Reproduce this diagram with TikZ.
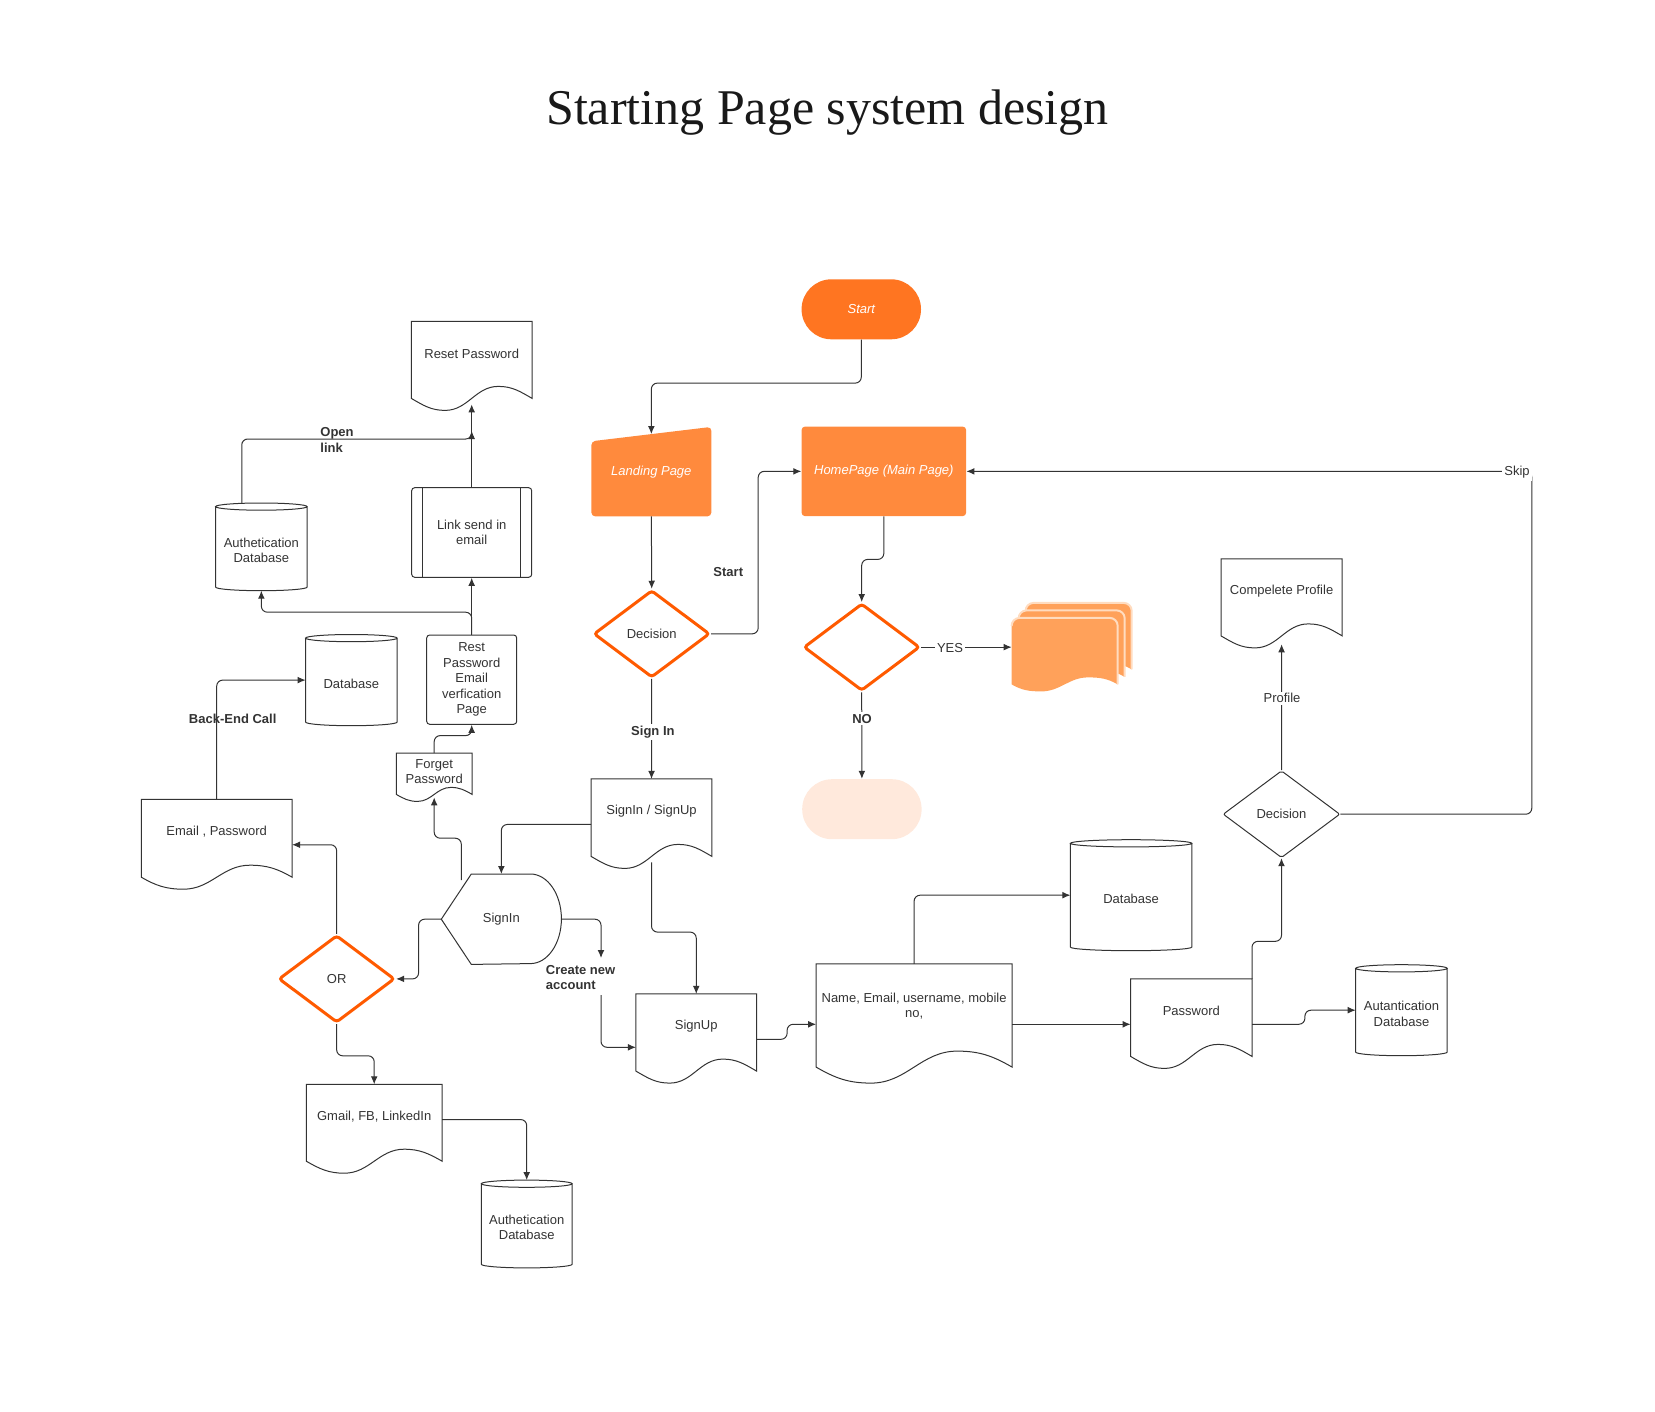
\documentclass[tikz,border=0pt]{standalone}
\usepackage{fontspec}
\setmainfont{Liberation Sans}
\newfontfamily\titlefont{Liberation Serif}
\usepackage{tikz}
\usetikzlibrary{shapes.geometric,arrows.meta,calc,backgrounds}
\definecolor{ink}{HTML}{333333}
\definecolor{startorange}{HTML}{FF7521}
\definecolor{pageorange}{HTML}{FF8A3D}
\definecolor{stackorange}{HTML}{FFA15A}
\definecolor{stackline}{HTML}{FFDCC0}
\definecolor{decorange}{HTML}{FF5A00}
\definecolor{endpeach}{HTML}{FFE9DC}

\newcommand{\docwave}[3][]{%
 \draw[shapeline,#1] (#2.south west) -- (#2.north west) -- (#2.north east) -- (#2.south east)
  to[out=150,in=0] ($(#2.south west)!0.72!(#2.south east)+(0,-#3)$)
  to[out=180,in=0] ($(#2.south west)!0.28!(#2.south east)+(0,#3)$)
  to[out=180,in=-30] (#2.south west) -- cycle;}
\newcommand{\stackwave}[2]{%
 \fill[stackorange] (#1.south west) -- ([yshift=-4pt]#1.north west) arc[start angle=180,end angle=90,radius=4pt]
  -- ([xshift=-4pt]#1.north east) arc[start angle=90,end angle=0,radius=4pt] -- (#1.south east)
  to[out=150,in=0] ($(#1.south west)!0.72!(#1.south east)+(0,-#2)$)
  to[out=180,in=0] ($(#1.south west)!0.28!(#1.south east)+(0,#2)$)
  to[out=180,in=-30] (#1.south west) -- cycle;
 \draw[stackline, line width=1pt] ([yshift=-4pt]#1.north west) arc[start angle=180,end angle=90,radius=4pt]
  -- ([xshift=-4pt]#1.north east) arc[start angle=90,end angle=0,radius=4pt] -- (#1.south east);}
\newcommand{\dbdraw}[1]{%
 \draw[shapeline] let \p1=($(#1.east)-(#1.west)$) in
  (#1.north west) -- (#1.south west) arc[start angle=180,end angle=360,x radius=0.5*\x1,y radius=1.8pt] -- (#1.north east)
  (#1.north) ellipse[x radius=0.5*\x1,y radius=1.8pt];}

\begin{document}
\begin{tikzpicture}[x=0.5pt,y=-0.5pt,
 >={Latex[length=4pt,width=3.4pt]},
 every node/.style={font=\fontsize{6.5}{7.8}\selectfont, text=ink},
 shapeline/.style={draw=ink, line width=0.5pt},
 conn/.style={draw=ink, line width=0.5pt, rounded corners=3pt},
 docbox/.style={rectangle, inner sep=0pt},
 doctxt/.style={align=center, yshift=3.2pt},
 dbbox/.style={rectangle, inner sep=0pt},
 dbtxt/.style={align=center, yshift=-1.75pt},
 orangedec/.style={diamond, aspect=1.33, draw=decorange, line width=1.5pt, rounded corners=1.5pt, minimum width=58pt, minimum height=43.6pt, inner sep=0pt},
 plaindec/.style={diamond, aspect=1.33, draw=ink, line width=0.5pt, rounded corners=1pt, minimum width=58.4pt, minimum height=43.5pt, inner sep=0pt},
 orangebox/.style={rectangle, fill=pageorange, rounded corners=1.5pt, text=white, font=\fontsize{6.5}{7.8}\selectfont\itshape},
 terminal/.style={rectangle, rounded corners=14.9pt, minimum width=59.7pt, minimum height=30pt, inner sep=0pt},
 procbox/.style={rectangle, draw=ink, line width=0.5pt, rounded corners=1.5pt, align=center, inner sep=0pt},
 lbl/.style={font=\fontsize{6.5}{7.8}\selectfont\bfseries, inner sep=1pt},
 tag/.style={fill=white, inner sep=1pt}]
 \useasboundingbox (0,0) rectangle (1655,1412);

 \node[font=\titlefont\fontsize{25}{30}\selectfont, text=black!90] (title) at (827.5,113) {Starting Page system design};

 \node[terminal, fill=startorange, text=white, font=\fontsize{6.5}{7.8}\selectfont\itshape] (start) at (861.3,309.3) {Start};
 \node[rectangle, inner sep=0pt, minimum width=59.65pt, minimum height=44.35pt, text=white, font=\fontsize{6.5}{7.8}\selectfont\itshape] (landing) at (651.35,471.65) {Landing Page};
 \begin{scope}[on background layer]
  \fill[pageorange, rounded corners=2pt] ([yshift=-7.2pt]landing.north west) -- (landing.north east) -- (landing.south east) -- (landing.south west) -- cycle;
 \end{scope}
 \coordinate (landtop) at ($(landing.north)+(0,7.2)$);
 \node[orangebox, minimum width=82.15pt, minimum height=44.65pt] (home) at (883.85,471.35) {HomePage (Main Page)};
 \node[orangedec] (decone) at (651.7,633.85) {Decision};
 \node[orangedec] (dectwo) at (861.7,647.15) {};
 \node[terminal, fill=endpeach] (noterm) at (861.9,809.2) {};
 \node[plaindec] (decthree) at (1281.5,814.2) {Decision};
 \node[orangedec] (ordec) at (336.65,978.9) {OR};

 \node[docbox, minimum width=52.65pt, minimum height=32.85pt] (stackc) at (1078.65,636.15) {};
 \node[docbox, minimum width=52.65pt, minimum height=32.85pt] (stackb) at (1071.65,643.65) {};
 \node[docbox, minimum width=52.65pt, minimum height=32.85pt] (stack) at (1064.65,651.15) {};
 \stackwave{stackc}{7}
 \stackwave{stackb}{7}
 \stackwave{stack}{7}

 \node[docbox, minimum width=60pt, minimum height=38.15pt, label={[doctxt]center:Reset Password}] (resetpw) at (471.7,359.85) {};
 \node[docbox, minimum width=75pt, minimum height=38.55pt, label={[doctxt]center:{Email , Password}}] (email) at (216.7,838.25) {};
 \node[docbox, minimum width=37.5pt, minimum height=20.3pt, label={[doctxt, yshift=-2.2pt]center:Forget\\Password}] (forgot) at (434.2,773.7) {};
 \node[docbox, minimum width=67.5pt, minimum height=38.05pt, label={[doctxt]center:{Gmail, FB, LinkedIn}}] (gmail) at (374.2,1122.75) {};
 \node[docbox, minimum width=60pt, minimum height=38.35pt, label={[doctxt]center:SignIn / SignUp}] (signinup) at (651.5,817.65) {};
 \node[docbox, minimum width=59.95pt, minimum height=38.2pt, label={[doctxt]center:SignUp}] (signup) at (696.25,1032.5) {};
 \node[docbox, minimum width=97.6pt, minimum height=51.2pt, label={[doctxt, yshift=1.5pt]center:{Name, Email, username, mobile\\no,}}] (name) at (914.1,1015.5) {};
 \node[docbox, minimum width=60.3pt, minimum height=38.35pt, label={[doctxt]center:Password}] (password) at (1191.3,1017.65) {};
 \node[docbox, minimum width=60.2pt, minimum height=38.1pt, label={[doctxt]center:Compelete Profile}] (complete) at (1281.6,597.4) {};
 \docwave{resetpw}{12}
 \docwave{email}{12}
 \docwave{forgot}{7}
 \docwave{gmail}{12}
 \docwave{signinup}{12}
 \docwave{signup}{12}
 \docwave{name}{16}
 \docwave{password}{12}
 \docwave{complete}{12}

 \node[dbbox, minimum width=45.35pt, minimum height=39.85pt, label={[dbtxt]center:Authetication\\Database}] (authtop) at (261.35,546.85) {};
 \node[dbbox, minimum width=45.35pt, minimum height=41.6pt, label={[dbtxt]center:Database}] (dbleft) at (351.35,680.1) {};
 \node[dbbox, minimum width=45pt, minimum height=39.9pt, label={[dbtxt]center:Authetication\\Database}] (authbot) at (526.7,1224) {};
 \node[dbbox, minimum width=60.3pt, minimum height=51.5pt, label={[dbtxt]center:Database}] (dbright) at (1131.1,895.2) {};
 \node[dbbox, minimum width=45.35pt, minimum height=41.5pt, label={[dbtxt]center:Autantication\\Database}] (autdb) at (1401.45,1010.2) {};
 \dbdraw{authtop}
 \dbdraw{dbleft}
 \dbdraw{authbot}
 \dbdraw{dbright}
 \dbdraw{autdb}

 \node[procbox, minimum width=60pt, minimum height=44.8pt] (linksend) at (471.7,532.5) {Link send in\\email};
 \draw[shapeline] ([xshift=5.8pt]linksend.north west) -- ([xshift=5.8pt]linksend.south west)
  ([xshift=-5.8pt]linksend.north east) -- ([xshift=-5.8pt]linksend.south east);
 \node[procbox, minimum width=45pt, minimum height=44.65pt] (restpage) at (471.7,679.65) {Rest\\Password\\Email\\verfication\\Page};

 \node[rectangle, inner sep=0pt, minimum width=59.65pt, minimum height=44.8pt] (signin) at (501.35,919.2) {SignIn};
 \draw[shapeline] (signin.west) -- ([xshift=15pt]signin.north west) -- ([xshift=-15.5pt]signin.north east)
  arc[start angle=90,end angle=-90,x radius=15.5pt,y radius=22.4pt] -- ([xshift=15pt]signin.south west) -- cycle;

 \coordinate (openend) at (471.7,431);
 \coordinate (crtop) at (601,958);
 \coordinate (crbot) at (601,995);

 \draw[conn,->] (start.south) -- ++(0,43.4) -| (landtop);
 \draw[conn,->] (landing.south) -- (decone.north);
 \draw[conn,->] (decone.east) -- ++(47,0) |- (home.west);
 \draw[conn,->] (home.south) -- ++(0,43) -| (dectwo.north);
 \draw[conn,->] (dectwo.east) -- (dectwo.east -| stack.west);
 \draw[conn,->] (dectwo.south) -- (noterm.north);
 \draw[conn,->] (decone.south) -- (signinup.north);
 \draw[conn,->] ([yshift=-3.4pt]signinup.west) -| (signin.north);
 \draw[conn,->] (signin.west) -- ++(-22.7,0) |- (ordec.east);
 \draw[conn,->] (ordec.north) |- ([yshift=-3.25pt]email.east);
 \draw[conn,->] (ordec.south) -- ++(0,31.8) -| (gmail.north);
 \draw[conn,->] ([yshift=1.6pt]gmail.east) -| ([yshift=1.8pt]authbot.north);
 \draw[conn,->] (email.north) |- (dbleft.west);
 \draw[conn,->] ($(signin.north west)+(20,6)$) -- ++(0,-41.8) -| ([yshift=-1.5pt]forgot.south);
 \draw[conn,->] (forgot.north) -- ++(0,-17.4) -| (restpage.south);
 \draw[conn,->] (restpage.north) -- (linksend.south);
 \draw[conn,->] (restpage.north) -- ++(0,-22.3) -| ([yshift=-1.8pt]authtop.south);
 \draw[conn,->] (linksend.north) -- ([yshift=-3pt]resetpw.south);
 \draw[conn,->] ([xshift=-9.8pt,yshift=1.8pt]authtop.north) -- ++(0,-64) -| (openend);
 \draw[conn,->] (signin.east) -| (crtop);
 \draw[conn,->] (crbot) |- ($(signup.west)+(0,14.8)$);
 \draw[conn,->] ([yshift=-3pt]signinup.south) -- ++(0,69.7) -| (signup.north);
 \draw[conn,->] ([yshift=-3.4pt]signup.east) -- ++(30.5,0) |- ($(name.west)+(0,8.8)$);
 \draw[conn,->] (name.north) |- (dbright.west);
 \draw[conn,->] ($(name.east)+(0,8.8)$) -- ($(name.east -| password.west)+(0,8.8)$);
 \draw[conn,->] ([yshift=-3.3pt]password.east) -- ++(52.9,0) |- (autdb.west);
 \draw[conn,->] (password.north east) -- ++(0,-37.6) -| (decthree.south);
 \draw[conn,->] (decthree.north) -- ([yshift=-4.2pt]complete.south);
 \draw[conn,->] (decthree.east) -- ++(191.4,0) |- (home.east);

 \node[lbl, align=left, anchor=west] (openlbl) at (318,439.7) {Open\\link};
 \node[lbl] (backlbl) at (232.7,719) {Back-End Call};
 \node[lbl] (startlbl) at (728.3,571.7) {Start};
 \node[lbl, fill=white] (signlbl) at (652.9,731.7) {Sign In};
 \node[lbl, align=left, anchor=west] (createlbl) at (543.5,977.7) {Create new\\account};
 \node[lbl, fill=white] (nolbl) at (862,718.8) {NO};
 \node[tag] (yeslbl) at (950,647.7) {YES};
 \node[tag] (profilelbl) at (1282,698.3) {Profile};
 \node[tag] (skiplbl) at (1517,472.5) {Skip};
\end{tikzpicture}
\end{document}
